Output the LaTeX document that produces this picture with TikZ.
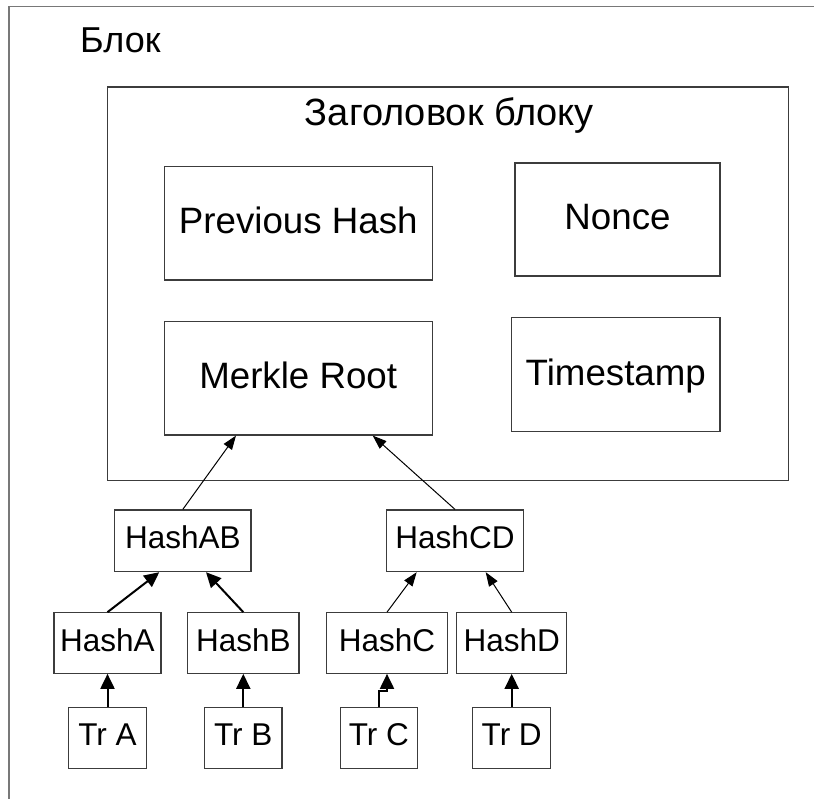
\documentclass[tikz,border=0pt]{standalone}
\usepackage{fontspec}
\setmainfont{Liberation Sans}
\usetikzlibrary{arrows.meta,calc}
\definecolor{boxgray}{RGB}{60,60,60}
\definecolor{framegray}{RGB}{120,120,120}
\begin{document}
\begin{tikzpicture}[x=1pt,y=-1pt,
  frame/.style={draw=boxgray,line width=1.1pt},
  bigbox/.style={frame,inner sep=0pt,text height=26pt,text depth=5pt,
    font=\fontsize{36.7}{40}\selectfont},
  smallbox/.style={frame,inner sep=0pt,text height=22pt,text depth=6pt,
    font=\fontsize{31.5}{36}\selectfont},
  thinarrow/.style={line width=1pt,-{Triangle[length=14pt,width=10pt]}},
  thickarrow/.style={line width=2pt,-{Triangle[length=15pt,width=14pt]}},
]
% canvas
\useasboundingbox[fill=white] (0,0) rectangle (814,799);

% outer block frame (runs off the page on the right and bottom)
\draw[framegray,line width=1.4pt] (9,799) -- (9,6.7) -- (814,6.7);
\node[anchor=base west,inner sep=0pt,font=\fontsize{36}{40}\selectfont]
  (blocklabel) at (80,52.3) {Блок};

% block header
\node[frame,minimum width=680.7pt,minimum height=393.3pt,inner sep=0pt]
  (header) at (447.7,283.7) {};
\node[anchor=base,inner sep=0pt,font=\fontsize{38}{42}\selectfont]
  (headerlabel) at (449.5,126) {Заголовок блоку};

\node[bigbox,minimum width=268.5pt,minimum height=113.5pt] (prev) at (298.3,223.3) {Previous Hash};
\node[bigbox,minimum width=205pt,minimum height=113pt] (nonce) at (617.5,219.5) {Nonce};
\node[bigbox,minimum width=268.3pt,minimum height=113.3pt] (merkle) at (298.2,378.4) {Merkle Root};
\node[bigbox,minimum width=208.3pt,minimum height=114pt] (stamp) at (615.8,374.7) {Timestamp};

% Merkle tree
\node[smallbox,minimum width=136.3pt,minimum height=61.7pt] (hab) at (182.8,540.8) {HashAB};
\node[smallbox,minimum width=136.6pt,minimum height=61.7pt] (hcd) at (455,540.8) {HashCD};

\node[smallbox,minimum width=107pt,minimum height=60.6pt] (ha) at (107.5,643) {HashA};
\node[smallbox,minimum width=111.3pt,minimum height=60.6pt] (hb) at (243.3,643) {HashB};
\node[smallbox,minimum width=120.6pt,minimum height=60.6pt] (hc) at (387,643) {HashC};
\node[smallbox,minimum width=110pt,minimum height=60.6pt] (hd) at (511.7,643) {HashD};

\node[smallbox,minimum width=77.4pt,minimum height=61pt] (tra) at (107.5,737.8) {Tr A};
\node[smallbox,minimum width=77.3pt,minimum height=61pt] (trb) at (243.3,737.8) {Tr B};
\node[smallbox,minimum width=77pt,minimum height=61pt] (trc) at (378.8,737.8) {Tr C};
\node[smallbox,minimum width=77.7pt,minimum height=61pt] (trd) at (511.7,737.8) {Tr D};

% connectors
\draw[thinarrow] (hab.north) -- ($(merkle.south)+(-62.2,0)$);
\draw[thinarrow] (hcd.north) -- ($(merkle.south)+(74.5,0)$);
\draw[thickarrow] (ha.north) -- ($(hab.south)+(-23.5,0)$);
\draw[thickarrow] (hb.north) -- ($(hab.south)+(23.2,0)$);
\draw[thinarrow] (hc.north) -- ($(hcd.south)+(-38.3,0)$);
\draw[thinarrow] (hd.north) -- ($(hcd.south)+(30.7,0)$);
\draw[thickarrow] (tra.north) -- (ha.south);
\draw[thickarrow] (trb.north) -- (hb.south);
\draw[thickarrow] (trc.north) |- ($(hc.south)+(0,17.4)$) -- (hc.south);
\draw[thickarrow] (trd.north) -- (hd.south);
\end{tikzpicture}
\end{document}
